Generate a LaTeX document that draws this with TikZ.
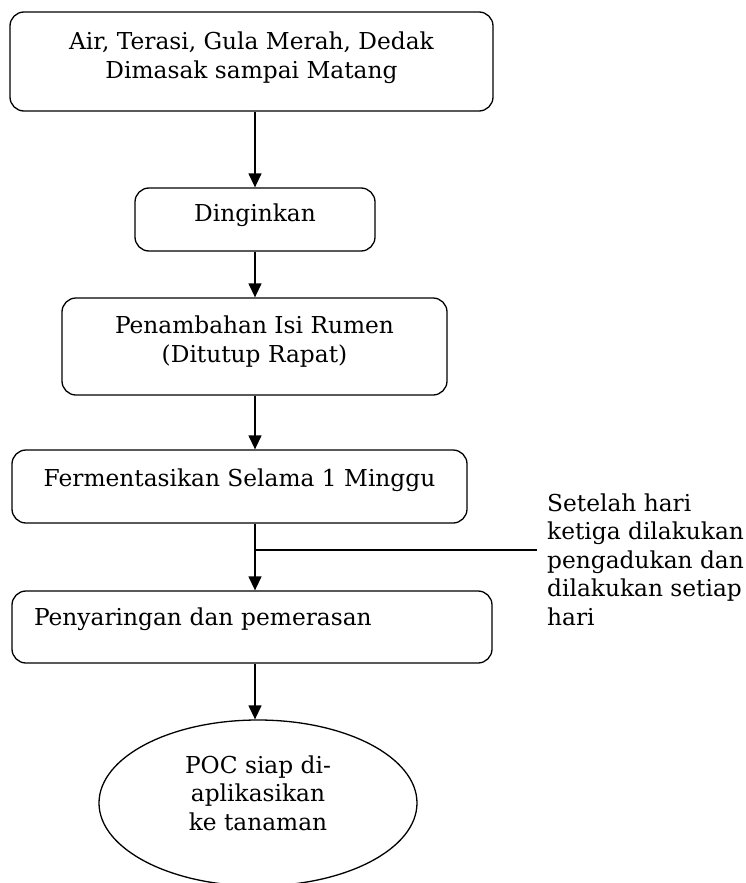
\documentclass[tikz,border=0pt]{standalone}
\usepackage{fontspec}
\setmainfont{DejaVu Serif}
\usetikzlibrary{shapes.geometric,arrows.meta}
\begin{document}
\begin{tikzpicture}[x=1pt,y=-1pt,
		font=\fontsize{23.3}{28.5}\selectfont,
		kotak/.style={draw, rounded corners=14pt, line width=1.3pt, align=center, inner sep=0pt},
		panah/.style={-{Triangle[length=14pt,width=13pt]}, line width=1.3pt}]
		\useasboundingbox (0,0) rectangle (746,883);
		\coordinate (sumbu) at (255,0);
		\node[kotak, minimum width=483pt, minimum height=99pt, text height=60pt, text depth=27pt] (masak) at (251.5,61.5) {Air, Terasi, Gula Merah, Dedak\\Dimasak sampai Matang};
		\node[kotak, minimum width=240pt, minimum height=63pt, text height=17pt, text depth=14pt] (dingin) at (255,219.5) {Dinginkan};
		\node[kotak, minimum width=385pt, minimum height=97pt, text height=50pt, text depth=19pt] (rumen) at (254.5,346.5) {Penambahan Isi Rumen\\(Ditutup Rapat)};
		\node[kotak, minimum width=455pt, minimum height=73pt, text height=17pt, text depth=18pt] (fermen) at (239.5,486.5) {Fermentasikan Selama 1 Minggu};
		\node[kotak, text width=436pt, inner xsep=22pt, align=left, minimum height=72pt, text height=17pt, text depth=21pt] (saring) at (252,627) {Penyaringan dan pemerasan};
		\node[draw, ellipse, line width=1.3pt, minimum width=318pt, minimum height=166pt, inner sep=0pt, align=center, text height=80pt, text depth=26pt] (poc) at (258,803) {POC siap di-\\aplikasikan\\ke tanaman};
		\node[anchor=west, align=left, inner xsep=10pt, text height=131pt, text depth=5pt] (catatan) at (537,562) {Setelah hari\\ketiga dilakukan\\pengadukan dan\\dilakukan setiap\\hari};
		\coordinate (cabang) at (255,550);
		\draw[panah] (masak.south -| sumbu) -- (dingin.north -| sumbu);
		\draw[panah] (dingin.south -| sumbu) -- (rumen.north -| sumbu);
		\draw[panah] (rumen.south -| sumbu) -- (fermen.north -| sumbu);
		\draw[panah] (fermen.south -| sumbu) -- (saring.north -| sumbu);
		\draw[panah] (saring.south -| sumbu) -- (poc.north -| sumbu);
		\draw[line width=1.3pt] (cabang) -- (cabang -| catatan.west);
	\end{tikzpicture}
\end{document}
